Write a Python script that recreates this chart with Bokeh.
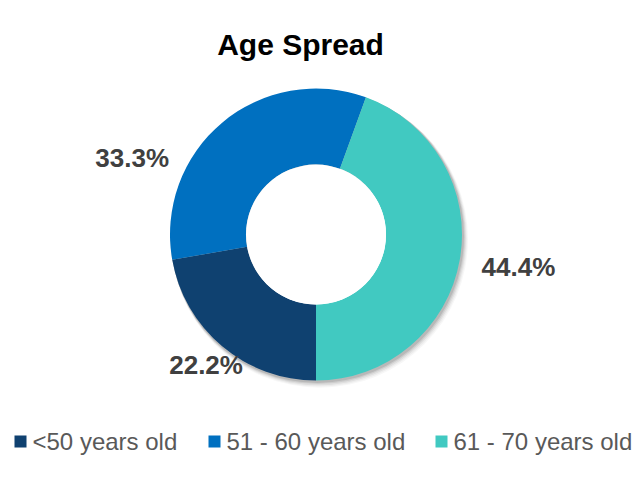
import math
from bokeh.plotting import figure
from bokeh.models import Range1d, ColumnDataSource
from bokeh.core.properties import value
from bokeh.embed import file_html
from bokeh.resources import INLINE

# ---- data ----
categories = ["<50 years old", "51 - 60 years old", "61 - 70 years old"]
percentages = [22.2, 33.3, 44.4]
colors = ["#0F4170", "#0070C0", "#41C9C1"]
title_text = "Age Spread"

# ---- layout constants ----
W, H = 636, 476
CX, CY = 315.5, H - 234.0
R_OUT, R_IN = 146.0, 70.0
START_DEG = -90.0          # first slice starts at 6 o'clock, goes clockwise
label_dist = [171, 199, 205]
label_nudge_deg = [0, 27.5, 1]
legend_marker_x = [14, 208, 435]
FONT = "Liberation Sans"

p = figure(width=W, height=H, output_backend="svg", toolbar_location=None,
           x_range=Range1d(0, W), y_range=Range1d(0, H), min_border=0)
p.axis.visible = False
p.grid.visible = False
p.outline_line_color = None
p.background_fill_color = "white"

total = sum(percentages)
starts, ends, mids = [], [], []
cum = 0.0
for v in percentages:
    a0 = math.radians(START_DEG) - cum / total * 2 * math.pi
    cum += v
    a1 = math.radians(START_DEG) - cum / total * 2 * math.pi
    starts.append(a0)
    ends.append(a1)
    mids.append((a0 + a1) / 2)

# soft shadow
for k, alpha in [(6, 0.03), (5, 0.04), (4, 0.06), (3, 0.08), (2, 0.10)]:
    p.annulus(x=[CX + k * 0.6], y=[CY - k * 0.8], inner_radius=R_IN, outer_radius=R_OUT + k * 0.4,
              fill_color="black", fill_alpha=alpha, line_color=None)

src = ColumnDataSource(dict(start=starts, end=ends, color=colors))
p.annular_wedge(x=CX, y=CY, inner_radius=R_IN, outer_radius=R_OUT,
                start_angle="start", end_angle="end", direction="clock",
                fill_color="color", line_color=None, source=src)
p.circle(x=[CX], y=[CY], radius=R_IN, fill_color="white", line_color=None)

# data labels
lx, ly, lt = [], [], []
for m, d, n, v in zip(mids, label_dist, label_nudge_deg, percentages):
    a = m + math.radians(n)
    lx.append(CX + d * math.cos(a))
    ly.append(CY + d * math.sin(a))
    lt.append(f"{v:.1f}%")
p.text(x=lx, y=ly, text=lt, text_font=value(FONT), text_font_style="bold",
       text_font_size="26px", text_color="#404040",
       text_align="center", text_baseline="middle")

# title
p.text(x=[300], y=[H - 44], text=[title_text], text_font=value(FONT), text_font_style="bold",
       text_font_size="30px", text_color="black", text_align="center", text_baseline="middle")

# legend
LY = H - 441
p.rect(x=[mx + 6 for mx in legend_marker_x], y=[LY] * 3, width=12, height=12,
       fill_color=colors, line_color=None)
p.text(x=[mx + 18 for mx in legend_marker_x], y=[LY] * 3, text=categories,
       text_font=value(FONT), text_font_size="24px", text_color="#595959",
       text_align="left", text_baseline="middle")

open("out.html", "w").write(file_html(p, INLINE))
